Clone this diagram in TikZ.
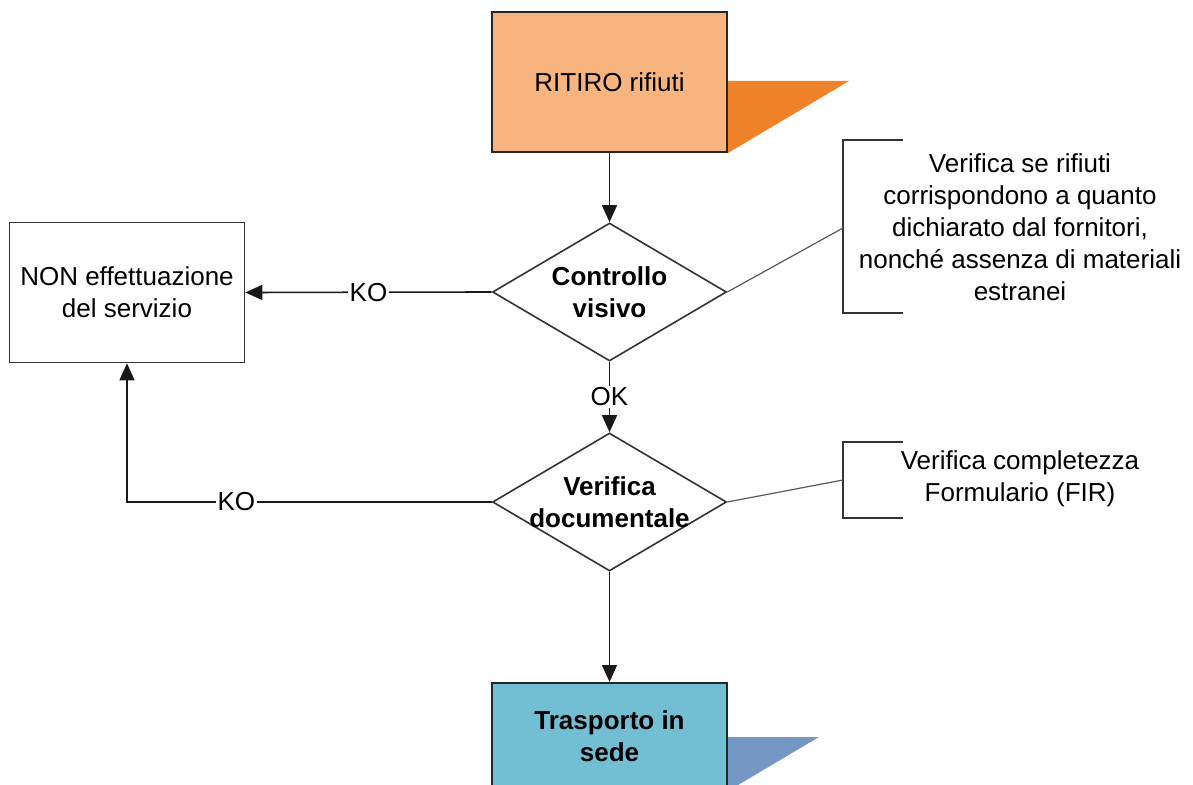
\documentclass[tikz,border=0pt]{standalone}
\usepackage{fontspec}
\setmainfont{Liberation Sans}
\usetikzlibrary{shapes.geometric,arrows.meta,backgrounds}
\definecolor{ritirofill}{HTML}{F7B47E}
\definecolor{ritiroshade}{HTML}{F0822A}
\definecolor{sedefill}{HTML}{72BFD4}
\definecolor{sedeshade}{HTML}{7497C4}
\begin{document}
\begin{tikzpicture}[x=0.5pt, y=-0.5pt,
  every node/.style={font={\fontsize{13}{16}\selectfont}},
  stepbox/.style={draw=black!85, line width=1pt, minimum width=117.5pt,
    minimum height=70pt, inner sep=0pt, align=center},
  decision/.style={diamond, draw=black!80, line width=0.8pt, minimum width=117pt,
    minimum height=69pt, inner sep=0pt},
  dtext/.style={align=center, font={\bfseries\fontsize{13}{16}\selectfont}},
  flow/.style={draw=black!90, line width=0.8pt, -{Triangle[length=8.5pt,width=7.5pt]}},
  flowlabel/.style={fill=white, inner sep=1pt},
  bracket/.style={draw=black!80, line width=0.8pt},
  noteline/.style={draw=black!65, line width=0.6pt}]

\useasboundingbox (0,0) rectangle (1193,785);

% flow steps
\node [stepbox, fill=ritirofill] (ritiro) at (609.5,82) {RITIRO rifiuti};
\node [decision, label={[dtext]center:{Controllo\\visivo}}] (cv) at (609.5,292) {};
\node [decision, label={[dtext]center:{Verifica\\documentale}}] (vd) at (609.5,502) {};
\node [stepbox, fill=sedefill, minimum height=53.5pt, font={\bfseries\fontsize{13}{16}\selectfont}]
  (sede) at (609.5,736.5) {Trasporto in\\sede};
\node [stepbox, line width=0.8pt, draw=black!80] (nes) at (127,292.5) {NON effettuazione\\del servizio};

\begin{scope}[on background layer]
\fill [ritiroshade] (ritiro.south east) -- ++(0,-72) -- ++(121,0) -- cycle;
\fill [sedeshade] (sede.south east) -- ++(0,-54) -- ++(91,0) -- cycle;
\end{scope}

\draw [flow] (ritiro) -- (cv);
\draw [flow] (cv) -- node [flowlabel] {OK} (vd);
\draw [flow] (vd) -- (sede);
\draw [flow] (cv.west) -- node [flowlabel] {KO} (nes.east);
\draw [flow] (vd.west) -| node [flowlabel, pos=0.35] {KO} (nes.south);

% notes
\node [align=center] (nvis) at (1020,227) {Verifica se rifiuti\\corrispondono a quanto\\dichiarato dal fornitori,\\nonché assenza di materiali\\estranei};
\coordinate (bvis) at (843,228);
\draw [bracket] (903,140) -- (843,140) -- (843,313) -- (903,313);
\draw [noteline] (cv.east) -- (bvis);

\node [align=center] (nfir) at (1020,479) {Verifica completezza\\Formulario (FIR)};
\coordinate (bfir) at (843,480);
\draw [bracket] (903,442) -- (843,442) -- (843,518) -- (903,518);
\draw [noteline] (vd.east) -- (bfir);

\end{tikzpicture}
\end{document}
